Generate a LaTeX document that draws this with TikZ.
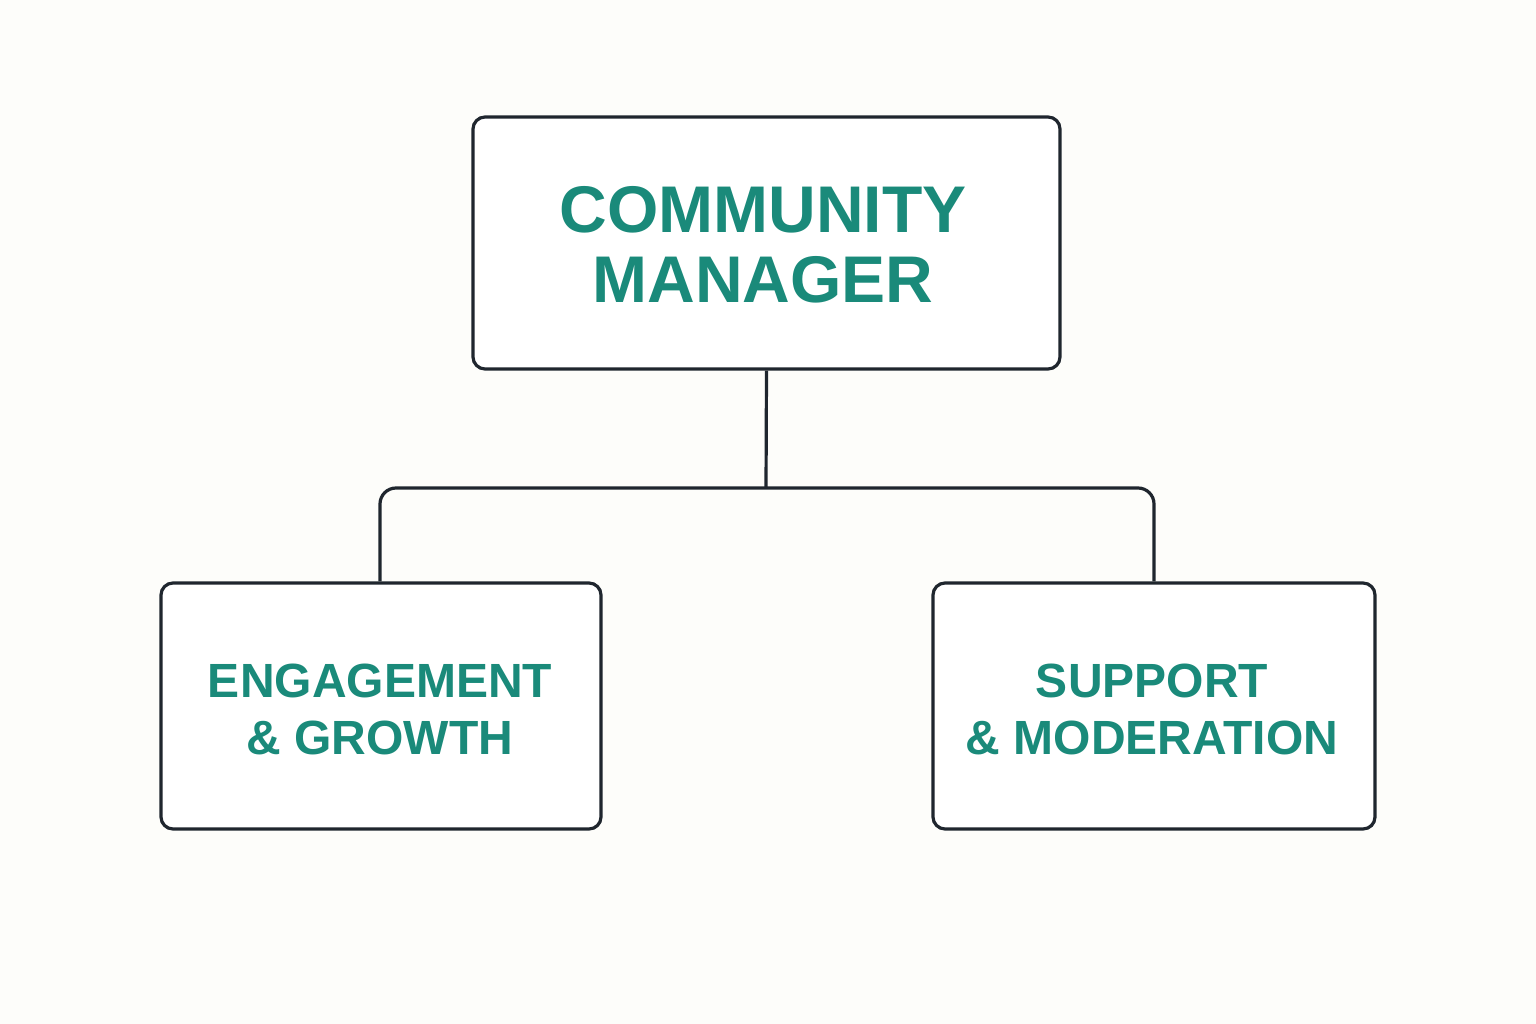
\documentclass[tikz,border=0pt]{standalone}
\usepackage{fontspec}
\setmainfont{Liberation Sans}
\definecolor{bg}{HTML}{FDFDFA}
\definecolor{teal}{HTML}{1A8A7A}
\definecolor{ink}{HTML}{1F262E}
\begin{document}
\begin{tikzpicture}[x=1pt,y=-1pt,
  box/.style={draw=ink,line width=3.2pt,rounded corners=12pt,fill=white,inner sep=0pt},
  bigtxt/.style={text=teal,font=\fontsize{66}{70}\selectfont\bfseries,align=center},
  smalltxt/.style={text=teal,font=\fontsize{48}{57}\selectfont\bfseries,align=center},
  link/.style={draw=ink,line width=3.2pt,rounded corners=16pt}]
\fill[bg] (0,0) rectangle (1536,1024);
\useasboundingbox (0,0) rectangle (1536,1024);
\node[box,minimum width=587pt,minimum height=252pt] (top) at (766.5,243) {};
\node[box,minimum width=440pt,minimum height=246pt] (left) at (381,706) {};
\node[box,minimum width=442pt,minimum height=246pt] (right) at (1154,706) {};
\node[bigtxt] (toptxt) at (763,245) {COMMUNITY\\MANAGER};
\node[smalltxt] (lefttxt) at (380,709) {ENGAGEMENT\\\& GROWTH};
\node[smalltxt] (righttxt) at (1152,709) {SUPPORT\\\& MODERATION};
\coordinate (mid) at (766,488);
\draw[link] (top.south) -- (mid);
\draw[link] (left.north -| 380,0) |- (mid) -| (right.north -| 1154,0);
\end{tikzpicture}
\end{document}
